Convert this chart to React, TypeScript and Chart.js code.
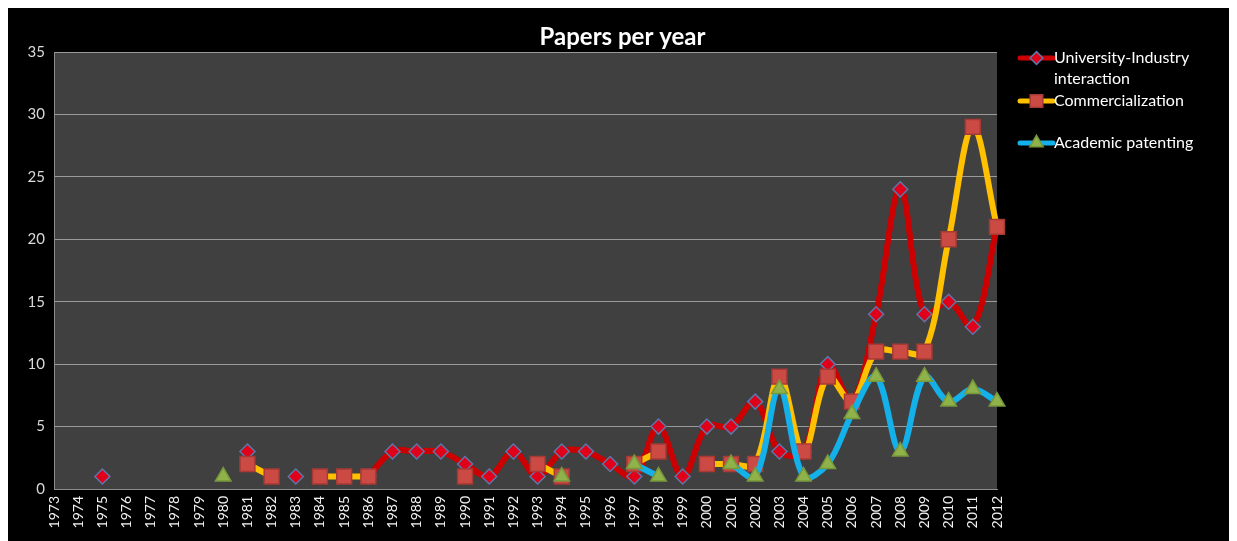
import React, { useEffect, useRef } from 'react';
import { Chart, registerables } from 'chart.js';
import { drawPoint } from 'chart.js/helpers';

Chart.register(...registerables);

const TITLE = 'Papers per year';

const years = [
  '1973', '1974', '1975', '1976', '1977', '1978', '1979', '1980', '1981', '1982',
  '1983', '1984', '1985', '1986', '1987', '1988', '1989', '1990', '1991', '1992',
  '1993', '1994', '1995', '1996', '1997', '1998', '1999', '2000', '2001', '2002',
  '2003', '2004', '2005', '2006', '2007', '2008', '2009', '2010', '2011', '2012',
];

const universityIndustry = [
  null, null, 1, null, null, null, null, null, 3, null,
  1, null, null, 1, 3, 3, 3, 2, 1, 3,
  1, 3, 3, 2, 1, 5, 1, 5, 5, 7,
  3, 3, 10, 7, 14, 24, 14, 15, 13, 21,
];

const commercialization = [
  null, null, null, null, null, null, null, null, 2, 1,
  null, 1, 1, 1, null, null, null, 1, null, null,
  2, 1, null, null, 2, 3, null, 2, 2, 2,
  9, 3, 9, 7, 11, 11, 11, 20, 29, 21,
];

const academicPatenting = [
  null, null, null, null, null, null, null, 1, null, null,
  null, null, null, null, null, null, null, null, null, null,
  null, 1, null, null, 2, 1, null, null, 2, 1,
  8, 1, 2, 6, 9, 3, 9, 7, 8, 7,
];

const seriesNames = ['University-Industry interaction', 'Commercialization', 'Academic patenting'];
const legendLines = [['University-Industry', 'interaction'], ['Commercialization'], ['Academic patenting']];

const Y_MIN = 0;
const Y_MAX = 35;
const Y_STEP = 5;

const FONT = 'Lato, "Open Sans", sans-serif';

const seriesStyles = [
  { line: '#cc0000', point: 'rectRot', radius: 7.5, fill: '#e0001a', border: '#5d77a8', order: 3 },
  { line: '#ffc000', point: 'rect', radius: 10.5, fill: '#cc4a44', border: '#a83a36', order: 2 },
  { line: '#14b0ea', point: 'triangle', radius: 9, fill: '#8fb24a', border: '#78983c', order: 1 },
];

const bgPlugin = {
  id: 'bgPlugin',
  beforeDraw(chart: any) {
    const { ctx, chartArea } = chart;
    ctx.save();
    ctx.fillStyle = '#000000';
    ctx.fillRect(0, 0, chart.width, chart.height);
    ctx.fillStyle = '#404040';
    ctx.fillRect(chartArea.left, chartArea.top, chartArea.right - chartArea.left, chartArea.bottom - chartArea.top);
    ctx.restore();
  },
};

const overlayPlugin = {
  id: 'overlayPlugin',
  afterDraw(chart: any) {
    const { ctx } = chart;
    ctx.save();
    // title
    ctx.fillStyle = '#ffffff';
    ctx.font = `bold 24px ${FONT}`;
    ctx.textAlign = 'center';
    ctx.textBaseline = 'alphabetic';
    ctx.fillText(TITLE, chart.width / 2, 37);

    // legend
    const lineX0 = 1012;
    const lineX1 = 1045;
    const textX = 1046;
    const rowY = [50, 93, 135];
    ctx.font = `16px ${FONT}`;
    ctx.textAlign = 'left';
    ctx.textBaseline = 'middle';
    seriesStyles.forEach((s, i) => {
      const y = rowY[i];
      ctx.strokeStyle = s.line;
      ctx.lineWidth = 5;
      ctx.lineCap = 'round';
      ctx.beginPath();
      ctx.moveTo(lineX0, y);
      ctx.lineTo(lineX1, y);
      ctx.stroke();
      ctx.fillStyle = s.fill;
      ctx.strokeStyle = s.border;
      ctx.lineWidth = 1.5;
      drawPoint(ctx, { pointStyle: s.point as any, radius: s.radius * 0.85, rotation: 0, borderWidth: 1.5 } as any, (lineX0 + lineX1) / 2, y);
      ctx.fillStyle = '#ffffff';
      legendLines[i].forEach((t, k) => {
        ctx.fillText(t, textX, y + k * 21);
      });
    });
    ctx.restore();
  },
};

export default function App() {
  const ref = useRef<HTMLCanvasElement | null>(null);

  useEffect(() => {
    if (!ref.current) return;
    const dataSeries = [universityIndustry, commercialization, academicPatenting];
    const chart = new Chart(ref.current, {
      type: 'line',
      data: {
        labels: years,
        datasets: dataSeries.map((d, i) => ({
          label: seriesNames[i],
          data: d,
          borderColor: seriesStyles[i].line,
          backgroundColor: seriesStyles[i].fill,
          borderWidth: 6,
          tension: 0.35,
          spanGaps: false,
          order: seriesStyles[i].order,
          pointStyle: seriesStyles[i].point as any,
          pointRadius: seriesStyles[i].radius,
          pointBackgroundColor: seriesStyles[i].fill,
          pointBorderColor: seriesStyles[i].border,
          pointBorderWidth: 1.5,
          fill: false,
        })),
      },
      options: {
        animation: false,
        responsive: true,
        maintainAspectRatio: false,
        devicePixelRatio: 1,
        layout: { padding: { left: 0, right: 240, top: 44, bottom: 0 } },
        plugins: {
          legend: { display: false },
          title: { display: false },
          tooltip: { enabled: false },
        },
        scales: {
          x: {
            type: 'category',
            offset: false,
            grid: { display: false, drawTicks: false },
            border: { display: true, color: '#8c8c8c', width: 1 },
            ticks: {
              autoSkip: false,
              maxRotation: 90,
              minRotation: 90,
              padding: 7,
              color: '#f2f2f2',
              font: { family: FONT, size: 14 },
            },
            afterFit: (s: any) => { s.height = 52; },
          },
          y: {
            min: Y_MIN,
            max: Y_MAX,
            ticks: {
              stepSize: Y_STEP,
              padding: 9,
              color: '#d9d9d9',
              font: { family: FONT, size: 15 },
            },
            grid: { color: '#9a9a9a', lineWidth: 1, drawTicks: false },
            border: { display: true, color: '#8c8c8c', width: 1 },
            afterFit: (s: any) => { s.width = 46; },
          },
        },
      },
      plugins: [bgPlugin, overlayPlugin],
    });
    return () => chart.destroy();
  }, []);

  return (
    <div style={{ width: 1229, height: 533, position: 'relative' }}>
      <canvas ref={ref} />
    </div>
  );
}
